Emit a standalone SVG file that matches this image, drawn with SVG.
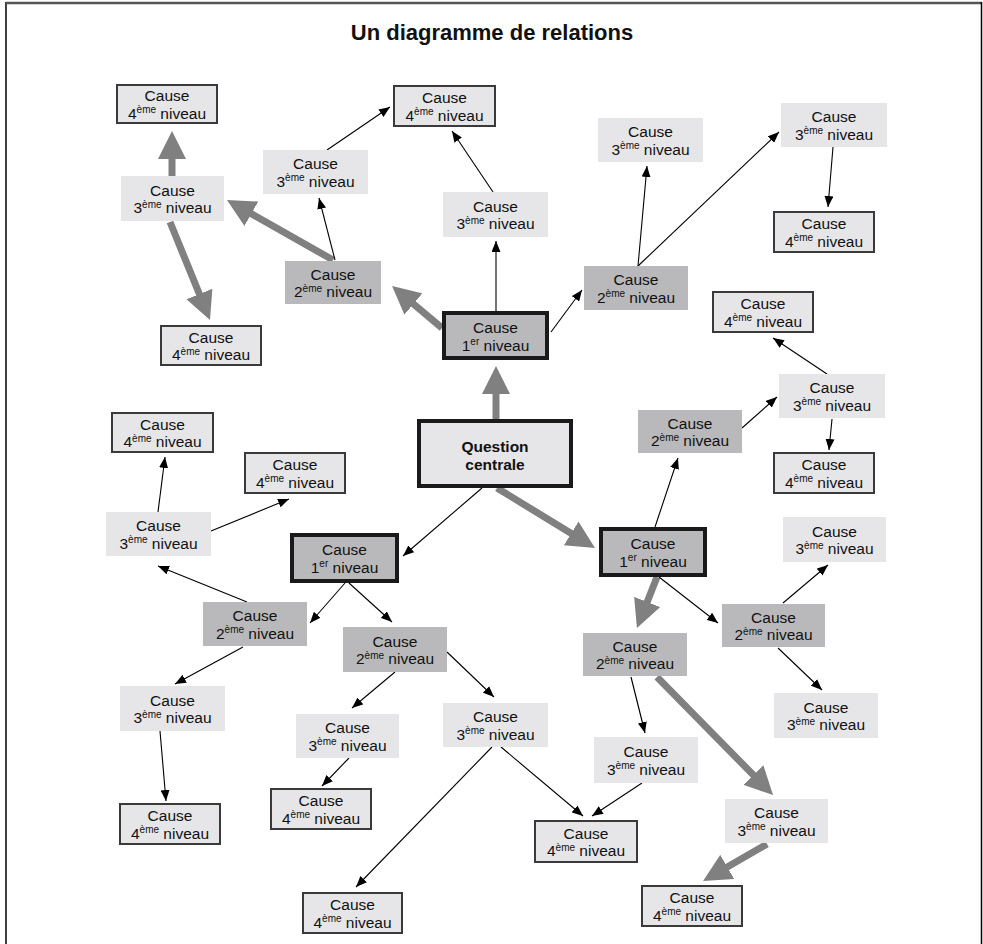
<svg xmlns="http://www.w3.org/2000/svg" width="983" height="944" viewBox="0 0 983 944">
<style>
text{font-family:"Liberation Sans",Arial,sans-serif;font-size:15.5px;fill:#111;text-anchor:middle}
.sup{font-size:10px}
.b{font-weight:bold;font-size:15.5px}
.title{font-size:22px;font-weight:bold}
.q{fill:#e6e6e8;stroke:#1a1a1a;stroke-width:4}
.n1{fill:#b9b9bb;stroke:#1a1a1a;stroke-width:4}
.n2{fill:#b9b9bb}
.n3{fill:#e6e6e8}
.n4{fill:#e6e6e8;stroke:#3a3a3a;stroke-width:2}
.thin{stroke:#000;stroke-width:1.1;fill:none;marker-end:url(#ah)}
.thick{stroke:#808080;stroke-width:7;fill:none;marker-end:url(#gh)}
</style>
<defs>
<marker id="ah" markerUnits="userSpaceOnUse" markerWidth="11" markerHeight="9" refX="11" refY="4.5" orient="auto"><path d="M0,0 L11,4.5 L0,9 z" fill="#000"/></marker>
<marker id="gh" markerUnits="userSpaceOnUse" markerWidth="28" markerHeight="28" refX="18" refY="14" orient="auto"><path d="M0,0 L28,14 L0,28 z" fill="#808080"/></marker>
</defs>
<rect width="983" height="944" fill="#fff"/>
<g id="frame">
<line x1="6" y1="2" x2="6" y2="944" stroke="#000" stroke-width="1.5"/>
<line x1="6" y1="3" x2="982" y2="3" stroke="#555" stroke-width="2.5"/>
<line x1="981.5" y1="2" x2="981.5" y2="944" stroke="#000" stroke-width="1.5"/>
</g>
<text class="title" x="492" y="40">Un diagramme de relations</text>
<g id="connectors">
<line class="thick" x1="496" y1="419" x2="496" y2="376"/>
<line class="thick" x1="442" y1="328" x2="399.7" y2="292.4"/>
<line class="thick" x1="333" y1="260" x2="235.7" y2="204.9"/>
<line class="thick" x1="172" y1="176" x2="172" y2="141"/>
<line class="thick" x1="170" y1="222" x2="206.2" y2="310.7"/>
<line class="thick" x1="497" y1="488" x2="586.5" y2="542.8"/>
<line class="thick" x1="657" y1="577" x2="640.6" y2="618.7"/>
<line class="thick" x1="657" y1="677" x2="766" y2="787.9"/>
<line class="thick" x1="767" y1="844" x2="711.7" y2="876"/>
<line class="thin" x1="496" y1="311" x2="496" y2="241"/>
<line class="thin" x1="493" y1="192" x2="452" y2="131"/>
<line class="thin" x1="551" y1="332" x2="582" y2="290"/>
<line class="thin" x1="638" y1="266" x2="647" y2="166"/>
<line class="thin" x1="638" y1="266" x2="779" y2="132"/>
<line class="thin" x1="833" y1="147" x2="828" y2="207"/>
<line class="thin" x1="335" y1="260" x2="319" y2="198"/>
<line class="thin" x1="327" y1="150" x2="390" y2="107"/>
<line class="thin" x1="655" y1="527" x2="678" y2="458"/>
<line class="thin" x1="742" y1="428" x2="777" y2="397"/>
<line class="thin" x1="827" y1="374" x2="773" y2="338"/>
<line class="thin" x1="832" y1="419" x2="829" y2="450"/>
<line class="thin" x1="482" y1="488" x2="403" y2="556"/>
<line class="thin" x1="345" y1="583" x2="310" y2="623"/>
<line class="thin" x1="349" y1="583" x2="392" y2="622"/>
<line class="thin" x1="247" y1="602" x2="158" y2="566"/>
<line class="thin" x1="158" y1="512" x2="165" y2="457"/>
<line class="thin" x1="211" y1="531" x2="289" y2="499"/>
<line class="thin" x1="243" y1="647" x2="175" y2="684"/>
<line class="thin" x1="160" y1="731" x2="166" y2="801"/>
<line class="thin" x1="395" y1="672" x2="352" y2="708"/>
<line class="thin" x1="447" y1="652" x2="494" y2="697"/>
<line class="thin" x1="349" y1="758" x2="322" y2="786"/>
<line class="thin" x1="492" y1="747" x2="356" y2="887"/>
<line class="thin" x1="501" y1="747" x2="583" y2="816"/>
<line class="thin" x1="642" y1="783" x2="592" y2="816"/>
<line class="thin" x1="631" y1="677" x2="645" y2="733"/>
<line class="thin" x1="659" y1="577" x2="718" y2="623"/>
<line class="thin" x1="783" y1="603" x2="828" y2="565"/>
<line class="thin" x1="778" y1="648" x2="822" y2="690"/>
</g>
<g id="question">
<rect class="q" x="419" y="421" width="152" height="65"/>
<text class="b" x="495" y="452">Question</text>
<text class="b" x="495" y="470">centrale</text>
</g>
<g id="t1"><rect class="n1" x="444" y="313" width="103" height="45"/><text x="495.5" y="333">Cause</text><text x="495.5" y="350.5">1<tspan class="sup" dy="-5.5">er</tspan><tspan dy="5.5"> niveau</tspan></text></g>
<g id="l1"><rect class="n1" x="292" y="535" width="105" height="46"/><text x="344.5" y="555">Cause</text><text x="344.5" y="572.5">1<tspan class="sup" dy="-5.5">er</tspan><tspan dy="5.5"> niveau</tspan></text></g>
<g id="r1"><rect class="n1" x="601" y="529" width="104" height="46"/><text x="653" y="549">Cause</text><text x="653" y="566.5">1<tspan class="sup" dy="-5.5">er</tspan><tspan dy="5.5"> niveau</tspan></text></g>
<g id="tl2"><rect class="n2" x="285" y="261" width="96" height="43"/><text x="333" y="279.5">Cause</text><text x="333" y="297">2<tspan class="sup" dy="-5.5">ème</tspan><tspan dy="5.5"> niveau</tspan></text></g>
<g id="tr2"><rect class="n2" x="584" y="266" width="104" height="44"/><text x="636" y="285">Cause</text><text x="636" y="302.5">2<tspan class="sup" dy="-5.5">ème</tspan><tspan dy="5.5"> niveau</tspan></text></g>
<g id="ru2"><rect class="n2" x="638" y="410" width="104" height="43"/><text x="690" y="428.5">Cause</text><text x="690" y="446">2<tspan class="sup" dy="-5.5">ème</tspan><tspan dy="5.5"> niveau</tspan></text></g>
<g id="rl2"><rect class="n2" x="722" y="604" width="103" height="43"/><text x="773.5" y="622.5">Cause</text><text x="773.5" y="640">2<tspan class="sup" dy="-5.5">ème</tspan><tspan dy="5.5"> niveau</tspan></text></g>
<g id="lo2"><rect class="n2" x="583" y="633" width="104" height="43"/><text x="635" y="651.5">Cause</text><text x="635" y="669">2<tspan class="sup" dy="-5.5">ème</tspan><tspan dy="5.5"> niveau</tspan></text></g>
<g id="l2"><rect class="n2" x="203" y="602" width="104" height="44"/><text x="255" y="621">Cause</text><text x="255" y="638.5">2<tspan class="sup" dy="-5.5">ème</tspan><tspan dy="5.5"> niveau</tspan></text></g>
<g id="m2"><rect class="n2" x="343" y="627" width="104" height="45"/><text x="395" y="646.5">Cause</text><text x="395" y="664">2<tspan class="sup" dy="-5.5">ème</tspan><tspan dy="5.5"> niveau</tspan></text></g>
<g id="tl3"><rect class="n3" x="121" y="176" width="103" height="45"/><text x="172.5" y="195.5">Cause</text><text x="172.5" y="213">3<tspan class="sup" dy="-5.5">ème</tspan><tspan dy="5.5"> niveau</tspan></text></g>
<g id="tm3"><rect class="n3" x="263" y="150" width="105" height="44"/><text x="315.5" y="169">Cause</text><text x="315.5" y="186.5">3<tspan class="sup" dy="-5.5">ème</tspan><tspan dy="5.5"> niveau</tspan></text></g>
<g id="tc3"><rect class="n3" x="443" y="192" width="105" height="45"/><text x="495.5" y="211.5">Cause</text><text x="495.5" y="229">3<tspan class="sup" dy="-5.5">ème</tspan><tspan dy="5.5"> niveau</tspan></text></g>
<g id="tr3"><rect class="n3" x="598" y="118" width="105" height="44"/><text x="650.5" y="137">Cause</text><text x="650.5" y="154.5">3<tspan class="sup" dy="-5.5">ème</tspan><tspan dy="5.5"> niveau</tspan></text></g>
<g id="tfr3"><rect class="n3" x="781" y="103" width="106" height="44"/><text x="834" y="122">Cause</text><text x="834" y="139.5">3<tspan class="sup" dy="-5.5">ème</tspan><tspan dy="5.5"> niveau</tspan></text></g>
<g id="r3"><rect class="n3" x="779" y="374" width="106" height="44"/><text x="832" y="393">Cause</text><text x="832" y="410.5">3<tspan class="sup" dy="-5.5">ème</tspan><tspan dy="5.5"> niveau</tspan></text></g>
<g id="rt3"><rect class="n3" x="783" y="517" width="103" height="45"/><text x="834.5" y="536.5">Cause</text><text x="834.5" y="554">3<tspan class="sup" dy="-5.5">ème</tspan><tspan dy="5.5"> niveau</tspan></text></g>
<g id="rb3"><rect class="n3" x="774" y="693" width="104" height="45"/><text x="826" y="712.5">Cause</text><text x="826" y="730">3<tspan class="sup" dy="-5.5">ème</tspan><tspan dy="5.5"> niveau</tspan></text></g>
<g id="lo3"><rect class="n3" x="594" y="737" width="104" height="46"/><text x="646" y="757">Cause</text><text x="646" y="774.5">3<tspan class="sup" dy="-5.5">ème</tspan><tspan dy="5.5"> niveau</tspan></text></g>
<g id="br3"><rect class="n3" x="725" y="799" width="103" height="44"/><text x="776.5" y="818">Cause</text><text x="776.5" y="835.5">3<tspan class="sup" dy="-5.5">ème</tspan><tspan dy="5.5"> niveau</tspan></text></g>
<g id="bm3"><rect class="n3" x="443" y="703" width="105" height="44"/><text x="495.5" y="722">Cause</text><text x="495.5" y="739.5">3<tspan class="sup" dy="-5.5">ème</tspan><tspan dy="5.5"> niveau</tspan></text></g>
<g id="bl3"><rect class="n3" x="296" y="714" width="103" height="44"/><text x="347.5" y="733">Cause</text><text x="347.5" y="750.5">3<tspan class="sup" dy="-5.5">ème</tspan><tspan dy="5.5"> niveau</tspan></text></g>
<g id="ll3"><rect class="n3" x="106" y="512" width="105" height="44"/><text x="158.5" y="531">Cause</text><text x="158.5" y="548.5">3<tspan class="sup" dy="-5.5">ème</tspan><tspan dy="5.5"> niveau</tspan></text></g>
<g id="lll3"><rect class="n3" x="120" y="686" width="105" height="45"/><text x="172.5" y="705.5">Cause</text><text x="172.5" y="723">3<tspan class="sup" dy="-5.5">ème</tspan><tspan dy="5.5"> niveau</tspan></text></g>
<g id="tl4"><rect class="n4" x="117" y="85" width="100" height="38"/><text x="167" y="101">Cause</text><text x="167" y="118.5">4<tspan class="sup" dy="-5.5">ème</tspan><tspan dy="5.5"> niveau</tspan></text></g>
<g id="tlb4"><rect class="n4" x="161" y="326" width="100" height="39"/><text x="211" y="342.5">Cause</text><text x="211" y="360">4<tspan class="sup" dy="-5.5">ème</tspan><tspan dy="5.5"> niveau</tspan></text></g>
<g id="tc4"><rect class="n4" x="394" y="86" width="101" height="40"/><text x="444.5" y="103">Cause</text><text x="444.5" y="120.5">4<tspan class="sup" dy="-5.5">ème</tspan><tspan dy="5.5"> niveau</tspan></text></g>
<g id="tfr4"><rect class="n4" x="774" y="212" width="100" height="40"/><text x="824" y="229">Cause</text><text x="824" y="246.5">4<tspan class="sup" dy="-5.5">ème</tspan><tspan dy="5.5"> niveau</tspan></text></g>
<g id="r4a"><rect class="n4" x="713" y="292" width="100" height="40"/><text x="763" y="309">Cause</text><text x="763" y="326.5">4<tspan class="sup" dy="-5.5">ème</tspan><tspan dy="5.5"> niveau</tspan></text></g>
<g id="r4b"><rect class="n4" x="774" y="453" width="100" height="40"/><text x="824" y="470">Cause</text><text x="824" y="487.5">4<tspan class="sup" dy="-5.5">ème</tspan><tspan dy="5.5"> niveau</tspan></text></g>
<g id="br4"><rect class="n4" x="642" y="886" width="100" height="40"/><text x="692" y="903">Cause</text><text x="692" y="920.5">4<tspan class="sup" dy="-5.5">ème</tspan><tspan dy="5.5"> niveau</tspan></text></g>
<g id="bm4"><rect class="n4" x="535" y="821" width="102" height="41"/><text x="586" y="838.5">Cause</text><text x="586" y="856">4<tspan class="sup" dy="-5.5">ème</tspan><tspan dy="5.5"> niveau</tspan></text></g>
<g id="bl4a"><rect class="n4" x="271" y="789" width="100" height="40"/><text x="321" y="806">Cause</text><text x="321" y="823.5">4<tspan class="sup" dy="-5.5">ème</tspan><tspan dy="5.5"> niveau</tspan></text></g>
<g id="bl4b"><rect class="n4" x="303" y="893" width="99" height="40"/><text x="352.5" y="910">Cause</text><text x="352.5" y="927.5">4<tspan class="sup" dy="-5.5">ème</tspan><tspan dy="5.5"> niveau</tspan></text></g>
<g id="l4a"><rect class="n4" x="112" y="413" width="101" height="39"/><text x="162.5" y="429.5">Cause</text><text x="162.5" y="447">4<tspan class="sup" dy="-5.5">ème</tspan><tspan dy="5.5"> niveau</tspan></text></g>
<g id="l4b"><rect class="n4" x="245" y="453" width="100" height="40"/><text x="295" y="470">Cause</text><text x="295" y="487.5">4<tspan class="sup" dy="-5.5">ème</tspan><tspan dy="5.5"> niveau</tspan></text></g>
<g id="ll4"><rect class="n4" x="120" y="804" width="100" height="40"/><text x="170" y="821">Cause</text><text x="170" y="838.5">4<tspan class="sup" dy="-5.5">ème</tspan><tspan dy="5.5"> niveau</tspan></text></g>
</svg>
